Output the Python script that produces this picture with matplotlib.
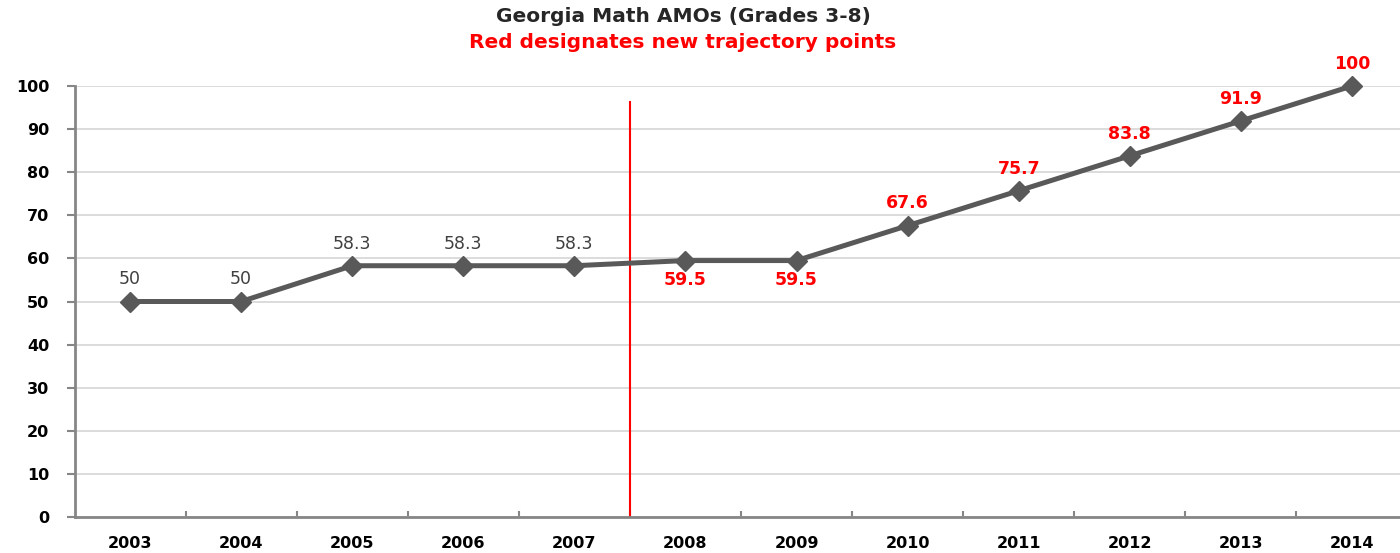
import matplotlib
matplotlib.use("Agg")
import matplotlib.pyplot as plt

years = ["2003", "2004", "2005", "2006", "2007", "2008", "2009", "2010", "2011", "2012", "2013", "2014"]
amo = [50, 50, 58.3, 58.3, 58.3, 59.5, 59.5, 67.6, 75.7, 83.8, 91.9, 100]
labels = ["50", "50", "58.3", "58.3", "58.3", "59.5", "59.5", "67.6", "75.7", "83.8", "91.9", "100"]
new_points = [False] * 5 + [True] * 7
label_below = [False] * 5 + [True, True] + [False] * 5

plt.rcParams["font.family"] = ["DejaVu Sans"]

fig = plt.figure(figsize=(14, 5.53), dpi=100)
ax = fig.add_axes([74.5 / 1400, 36 / 553, 1333 / 1400, 431 / 553])

x = list(range(len(years)))
ax.plot(x, amo, color="#595959", lw=3.6, marker="D", ms=10, mec="#595959", mfc="#595959", zorder=3, clip_on=False)

for i, (v, s) in enumerate(zip(amo, labels)):
    col = "red" if new_points[i] else "#404040"
    wt = "bold" if new_points[i] else "normal"
    if label_below[i]:
        ax.annotate(s, (i, v), xytext=(0, -14), textcoords="offset points", ha="center", va="center",
                    color=col, fontsize=12.5, fontweight=wt)
    else:
        ax.annotate(s, (i, v), xytext=(0, 16), textcoords="offset points", ha="center", va="center",
                    color=col, fontsize=12.5, fontweight=wt, annotation_clip=False)

# divider between old and new trajectory
ax.plot([4.5, 4.5], [0, 96.3], color="red", lw=1.5, zorder=2)

ax.set_xlim(-0.5, 11.5)
ax.set_ylim(0, 100)
ax.set_yticks(range(0, 101, 10))
ax.set_xticks(x)
ax.set_xticklabels(years, fontsize=11.5, fontweight="bold")
ax.set_xticks([i + 0.5 for i in x[:-1]], minor=True)
for t in ax.get_yticklabels():
    t.set_fontsize(11.5)
    t.set_fontweight("bold")
ax.tick_params(axis="x", which="major", length=0, pad=14)
ax.tick_params(axis="x", which="minor", length=4, direction="in", color="#868686", width=1.5)
ax.tick_params(axis="y", length=6, color="#868686", width=1.5, pad=12)

ax.grid(axis="y", color="#d9d9d9", lw=1.3)
ax.set_axisbelow(True)
for side in ["top", "right"]:
    ax.spines[side].set_visible(False)
for side in ["left", "bottom"]:
    ax.spines[side].set_color("#868686")
    ax.spines[side].set_linewidth(2)

fig.text(683 / 1400, 1 - 17 / 553, "Georgia Math AMOs (Grades 3-8)", ha="center", va="center",
         fontsize=14.5, fontweight="bold", color="#262626")
fig.text(683 / 1400, 1 - 42 / 553, "Red designates new trajectory points", ha="center", va="center",
         fontsize=14.5, fontweight="bold", color="red")

fig.savefig("out.png", dpi=100)
